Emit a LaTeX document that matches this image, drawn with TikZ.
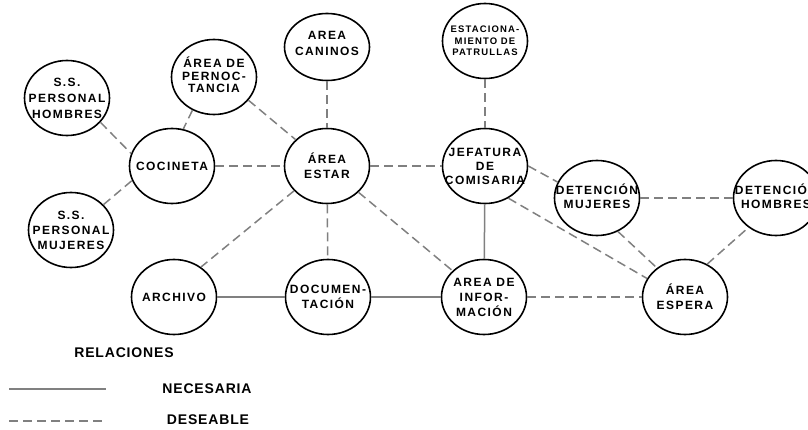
\documentclass[tikz,border=0pt]{standalone}
\usepackage{fontspec}
\setmainfont{Liberation Sans}
\newfontfamily\nf{Liberation Sans}[LetterSpace=12]
\newfontfamily\lf{Liberation Sans}[LetterSpace=6]
\usetikzlibrary{shapes.geometric}
\definecolor{lg}{RGB}{128,128,128}
\begin{document}
\begin{tikzpicture}[x=1pt,y=-1pt,
  bub/.style={draw=black, line width=1.6pt, ellipse, minimum width=85pt, minimum height=75pt, inner sep=0pt},
  txt/.style={font=\nf\bfseries\fontsize{12}{15}\selectfont, align=center, inner sep=0pt},
  nec/.style={draw=lg, line width=1.5pt},
  des/.style={draw=lg, line width=1.5pt, dash pattern=on 9pt off 5pt},
  lgt/.style={font=\lf\bfseries\fontsize{14}{16}\selectfont, inner sep=0pt}
]
\useasboundingbox (0,0) rectangle (808,430);

% nodes
\node[bub] (ssh) at (67,98) {};
\node[txt, font=\nf\bfseries\fontsize{12}{16}\selectfont] (ssh-t) at (ssh) {S.S.\\PERSONAL\\HOMBRES};
\node[bub] (per) at (214,77) {};
\node[txt, font=\nf\bfseries\fontsize{12}{12.5}\selectfont, yshift=2pt] (per-t) at (per) {ÁREA DE\\PERNOC-\\TANCIA};
\node[bub, minimum height=67pt] (can) at (327,47) {};
\node[txt, font=\nf\bfseries\fontsize{12}{16}\selectfont, yshift=4pt] (can-t) at (can) {AREA\\CANINOS};
\node[bub] (sta) at (485,41) {};
\node[txt, font=\nf\bfseries\fontsize{9.5}{11.5}\selectfont] (sta-t) at (sta) {ESTACIONA-\\MIENTO DE\\PATRULLAS};
\node[bub] (coc) at (172,166) {};
\node[txt] (coc-t) at (coc) {COCINETA};
\node[bub] (are) at (327,166) {};
\node[txt] (are-t) at (are) {ÁREA\\ESTAR};
\node[bub] (jef) at (485,166) {};
\node[txt, font=\nf\bfseries\fontsize{12}{14}\selectfont] (jef-t) at (jef) {JEFATURA\\DE\\COMISARIA};
\node[bub] (detm) at (597,198) {};
\node[txt, font=\nf\bfseries\fontsize{12}{14}\selectfont, yshift=2pt] (detm-t) at (detm) {DETENCIÓN\\MUJERES};
\node[bub] (deth) at (776,198) {};
\node[txt, font=\nf\bfseries\fontsize{12}{14}\selectfont, yshift=2pt] (deth-t) at (deth) {DETENCIÓN\\HOMBRES};
\node[bub] (ssm) at (71,230) {};
\node[txt] (ssm-t) at (ssm) {S.S.\\PERSONAL\\MUJERES};
\node[bub] (arc) at (174,297) {};
\node[txt] (arc-t) at (arc) {ARCHIVO};
\node[bub] (doc) at (328,297) {};
\node[txt] (doc-t) at (doc) {DOCUMEN-\\TACIÓN};
\node[bub] (inf) at (484,297) {};
\node[txt] (inf-t) at (inf) {AREA DE\\INFOR-\\MACIÓN};
\node[bub] (esp) at (685,297) {};
\node[txt] (esp-t) at (esp) {ÁREA\\ESPERA};

% desirable relations
\draw[des] (ssh.-36) -- (coc.163);
\draw[des] (ssm.38) -- (coc.200);
\draw[des] (per.237) -- (coc.73);
\draw[des] (per.-34) -- (are.140);
\draw[des] (can) -- (are);
\draw[des] (coc) -- (are);
\draw[des] (are) -- (jef);
\draw[des] (are.217) -- (arc.48);
\draw[des] (are) -- (doc);
\draw[des] (are) -- (inf);
\draw[des] (sta) -- (jef);
\draw[des] (jef.0) -- (detm.158);
\draw[des] (jef.-54) -- (esp.154);
\draw[des] (detm) -- (deth);
\draw[des] (detm.-58) -- (esp.134);
\draw[des] (esp.56) -- (deth.227);
\draw[des] (inf) -- (esp);

% necessary relations
\draw[nec] (arc) -- (doc);
\draw[nec] (doc) -- (inf);
\draw[nec] (jef) -- (inf);

% legend
\node[lgt] (rel) at (124,353) {RELACIONES};
\coordinate (n1) at (9,389);
\coordinate (n2) at (106,389);
\draw[nec] (n1) -- (n2);
\node[lgt] (necl) at (207,389) {NECESARIA};
\coordinate (d1) at (9,421);
\coordinate (d2) at (105,421);
\draw[des] (d1) -- (d2);
\node[lgt] (desl) at (208,420) {DESEABLE};
\end{tikzpicture}
\end{document}
